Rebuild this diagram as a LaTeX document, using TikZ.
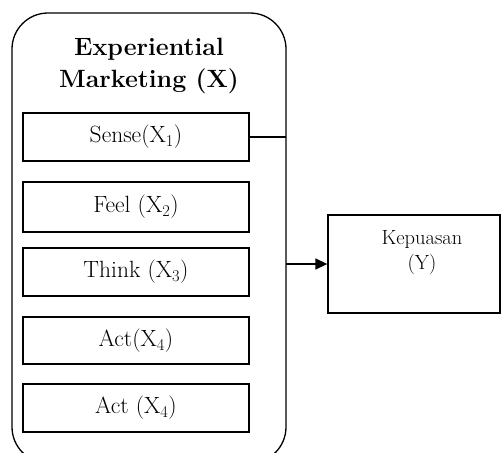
\documentclass[tikz,border=0pt]{standalone}
\usepackage{tikz,amssymb,amsmath}
\usetikzlibrary{arrows.meta}

\tikzset{
  dimbox/.style={draw, line width=1.3pt, minimum width=226pt, minimum height=48pt,
    inner sep=0pt, font=\fontsize{23.5}{26}\selectfont},
}

\begin{document}
\begin{tikzpicture}[x=1pt, y=-1pt]
  \clip (0,0) rectangle (504,453);
  % ---- left panel: Experiential Marketing ----
  \draw[line width=1.3pt, rounded corners=36pt] (12,13) rectangle (286,463);
  \coordinate (outerE) at (286,0);
  \node[align=center, font=\bfseries\fontsize{25}{32}\selectfont] (title) at (149,66)
    {Experiential\\Marketing (X)};
  \node[dimbox] (sense) at (136,137) {Sense(X\textsubscript{1})};
  \node[dimbox, minimum height=50pt] (feel) at (136,207) {Feel (X\textsubscript{2})};
  \node[dimbox] (think) at (136,272) {Think (X\textsubscript{3})};
  \node[dimbox, minimum height=47pt] (act) at (136,340.5) {Act(X\textsubscript{4})};
  \node[dimbox] (actb) at (136,408) {Act (X\textsubscript{4})};
  % ---- right panel: Kepuasan ----
  \node[draw, line width=1.3pt, minimum width=172pt, minimum height=98pt] (kep) at (414,264) {};
  \node[align=center, font=\fontsize{20.5}{25}\selectfont] (kepText) at (422,253) {Kepuasan\\(Y)};
  % ---- connectors ----
  \draw[line width=1.3pt] (sense.east) -- (outerE |- sense.east);
  \draw[line width=1.5pt, -{Triangle[length=12pt, width=11pt]}] (outerE |- kep.west) -- (kep.west);
\end{tikzpicture}
\end{document}
